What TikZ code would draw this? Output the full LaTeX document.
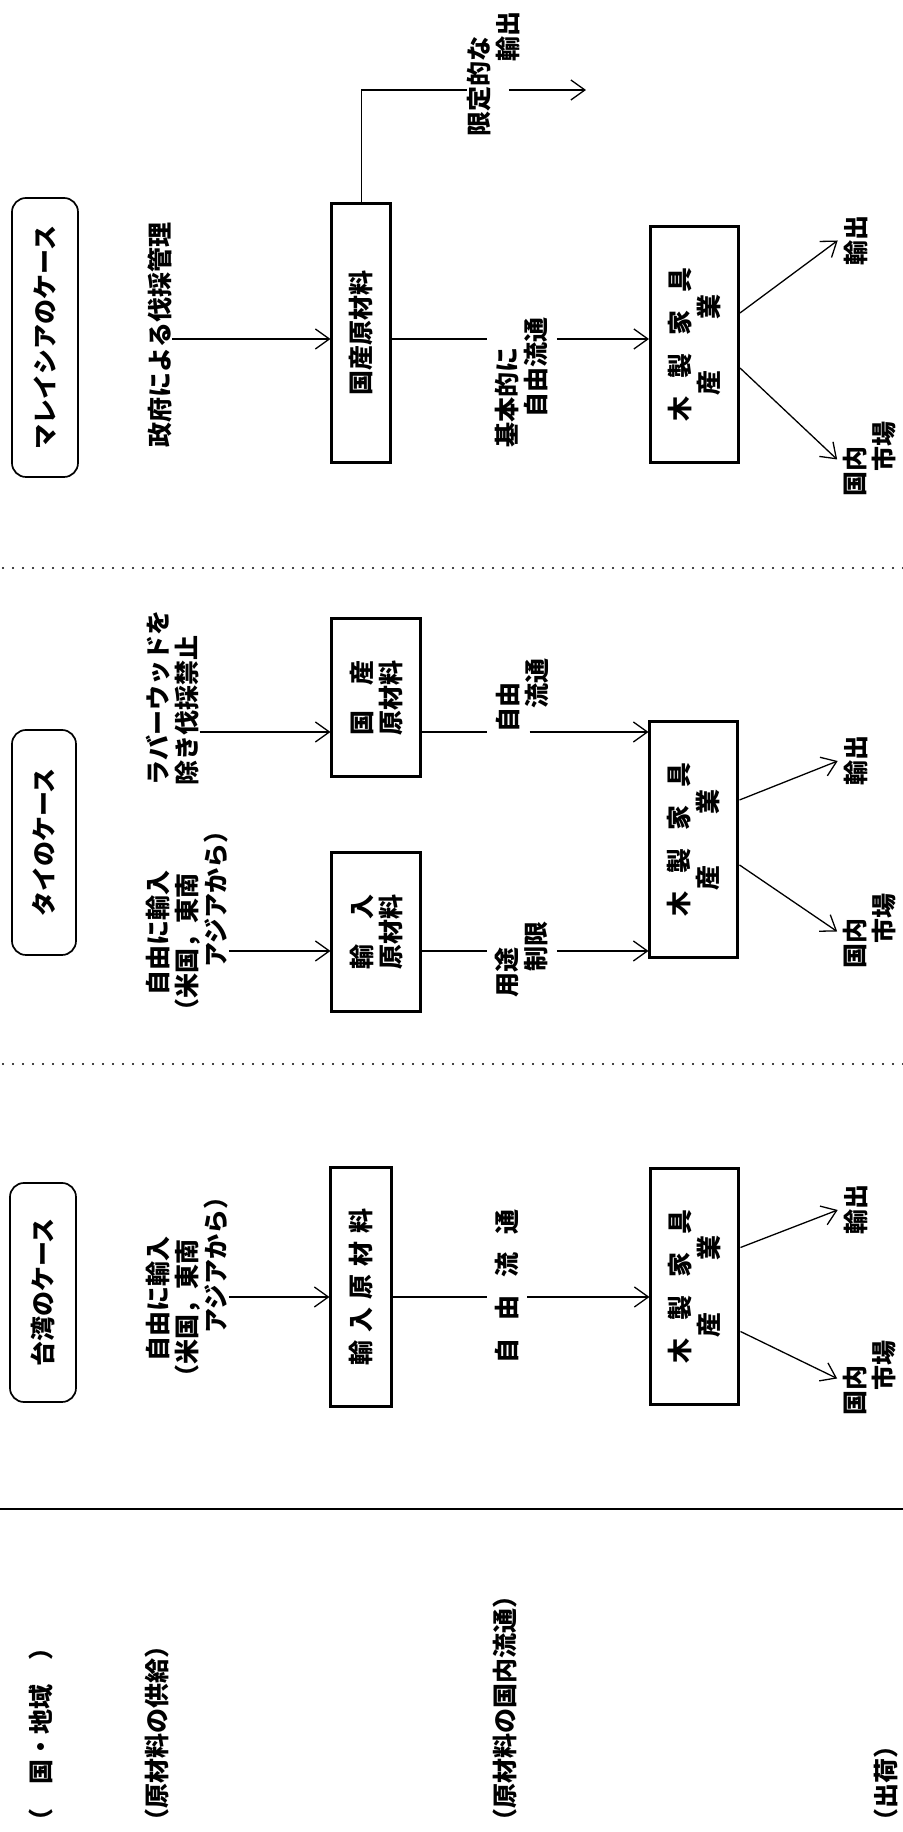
\documentclass[tikz,border=0pt]{standalone}
\usepackage{fontspec}
\newfontfamily\jpfont{Noto Sans CJK JP}
\newcommand\diagfont{\jpfont\bfseries\fontsize{12.5pt}{14.5pt}\selectfont}
\usetikzlibrary{arrows.meta,calc}

\begin{document}
\begin{tikzpicture}[x=0.5pt, y=0.5pt,
  every node/.style={font=\diagfont, inner sep=0pt},
  casebox/.style={draw, line width=0.85pt, rounded corners=7pt},
  matbox/.style={draw, line width=1.5pt, align=center},
  lbl/.style={align=left},
  flowlbl/.style={align=left, inner ysep=4pt},
  outlbl/.style={align=left, inner sep=3pt},
  arr/.style={-{Straight Barb[length=7pt,width=10pt]}, line width=0.65pt},
  flow/.style={line width=0.65pt},
  sep/.style={line width=1.2pt, dash pattern=on 0pt off 5pt, line cap=round}
]
\begin{scope}[rotate=90, transform shape]
  \useasboundingbox (0,0) rectangle (1832,903);

  % row headings and dividers
  \node[anchor=west] (hcountry) at (-2,862) {（\hspace{12pt}国・地域\hspace{12pt}）};
  \node[anchor=west] (hsupply) at (-2,745.5) {（原材料の供給）};
  \node[anchor=west] (hdist) at (-2,397.5) {（原材料の国内流通）};
  \node[anchor=west] (hship) at (-2,17) {（出荷）};
  \draw[line width=1.2pt] (323,0) -- (323,903);
  \draw[sep] (768,0) -- (768,903);
  \draw[sep] (1264,0) -- (1264,903);

  % Taiwan
  \coordinate (wline) at (535,0);
  \node[casebox, minimum width=109.5pt, minimum height=33pt] (wcase) at (539.5,860) {台湾のケース};
  \node[lbl, anchor=north west] (wfree) at (442,757) {\hspace*{14pt}自由に輸入\\（米国，東南\\\hspace*{28pt}アジアから）};
  \node[matbox, minimum width=119.5pt, minimum height=30.5pt] (wimp) at (544.5,541.5) {輸\hspace{4pt}入\hspace{4pt}原\hspace{4pt}材\hspace{4pt}料};
  \node[flowlbl] (wflow) at (545.5,396) {自\hspace{9pt}由\hspace{9pt}流\hspace{9pt}通};
  \node[matbox, minimum width=118pt, minimum height=44pt] (wfurn) at (545.5,208) {木\hspace{9pt}製\hspace{9pt}家\hspace{9pt}具\\産\hspace{26pt}業};
  \node[outlbl] (wexp) at (622,47) {輸出};
  \node[outlbl] (whome) at (453.5,33) {国内\\\hspace*{12.5pt}市場};
  \draw[arr] (wfree.south -| wline) -- (wimp.north -| wline);
  \draw[flow] (wimp.south -| wline) -- (wflow.north -| wline);
  \draw[arr] (wflow.south -| wline) -- (wfurn.north -| wline);
  \draw[arr] ($(wfurn.south)+(39,0)$) -- (wexp.north);
  \draw[arr] ($(wfurn.south)+(-45,0)$) -- (whome.north);

  % Thailand
  \coordinate (tiline) at (881,0);
  \coordinate (tdline) at (1100,0);
  \node[casebox, minimum width=112.5pt, minimum height=32pt] (tcase) at (989.5,859) {タイのケース};
  \node[lbl, anchor=north west] (tfree) at (808,757) {\hspace*{14pt}自由に輸入\\（米国，東南\\\hspace*{28pt}アジアから）};
  \node[lbl, anchor=north west] (tban) at (1046,757) {ラバーウッドを\\除き伐採禁止};
  \node[matbox, minimum width=79.5pt, minimum height=44.5pt] (timp) at (899.5,526.5) {輸\hspace{12.5pt}入\\原材料};
  \node[matbox, minimum width=79pt, minimum height=44.5pt] (traw) at (1134,526.5) {国\hspace{12.5pt}産\\原材料};
  \node[flowlbl] (tflowi) at (872,381) {用途\\\hspace*{13pt}制限};
  \node[flowlbl] (tflowd) at (1136,381) {自由\\\hspace*{12pt}流通};
  \node[matbox, minimum width=118pt, minimum height=44pt] (tfurn) at (992,209) {木\hspace{9pt}製\hspace{9pt}家\hspace{9pt}具\\産\hspace{26pt}業};
  \node[outlbl] (texp) at (1071,47) {輸出};
  \node[outlbl] (thome) at (900.5,33) {国内\\\hspace*{12.5pt}市場};
  \draw[arr] (tfree.south -| tiline) -- (timp.north -| tiline);
  \draw[flow] (timp.south -| tiline) -- (tflowi.north -| tiline);
  \draw[arr] (tflowi.south -| tiline) -- (tfurn.north -| tiline);
  \draw[arr] (tban.south -| tdline) -- (traw.north -| tdline);
  \draw[flow] (traw.south -| tdline) -- (tflowd.north -| tdline);
  \draw[arr] ($(tflowd.south -| tdline)+(0,27)$) -- (tfurn.north -| tdline);
  \draw[arr] ($(tfurn.south)+(40,0)$) -- (texp.north);
  \draw[arr] ($(tfurn.south)+(-25,0)$) -- (thome.north);

  % Malaysia
  \coordinate (mline) at (1493,0);
  \coordinate (mcorner) at (1742,541.5);
  \coordinate (mlimend) at (1742,317);
  \node[casebox, minimum width=139.5pt, minimum height=33pt] (mcase) at (1494.5,858) {マレイシアのケース};
  \node (mgov) at (1497,743) {政府による伐採管理};
  \node[matbox, minimum width=129.5pt, minimum height=29.5pt] (mraw) at (1498.5,541.5) {国産原材料};
  \node[lbl] (mlim) at (1757.5,409) {限定的な\\\hspace*{37.5pt}輸出};
  \node[flowlbl] (mflow) at (1449,381) {基本的に\\\hspace*{15pt}自由流通};
  \node[matbox, minimum width=118pt, minimum height=44pt] (mfurn) at (1487,208.5) {木\hspace{9pt}製\hspace{9pt}家\hspace{9pt}具\\産\hspace{26pt}業};
  \node[outlbl] (mexp) at (1591.5,47) {輸出};
  \node[outlbl] (mhome) at (1372.5,33) {国内\\\hspace*{12.5pt}市場};
  \draw[arr] (mgov.south -| mline) -- (mraw.north -| mline);
  \draw[flow] (mraw.south -| mline) -- (mflow.north -| mline);
  \draw[arr] (mflow.south -| mline) -- (mfurn.north -| mline);
  \draw[flow] (mraw.east) -- (mcorner) -- (mlim.north -| mcorner);
  \draw[arr] ($(mlim.south -| mcorner)+(0,12)$) -- (mlimend);
  \draw[arr] ($(mfurn.south)+(32,0)$) -- (mexp.north);
  \draw[arr] ($(mfurn.south)+(-23,0)$) -- (mhome.north);
\end{scope}
\end{tikzpicture}
\end{document}
